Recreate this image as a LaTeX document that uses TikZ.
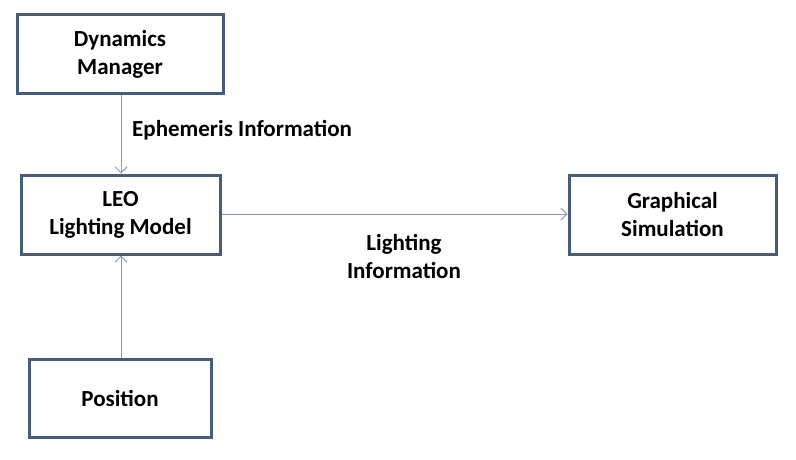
\documentclass[tikz,border=0pt]{standalone}
\usepackage{fontspec}
\setmainfont{Carlito}
\usetikzlibrary{arrows.meta}
\definecolor{boxline}{RGB}{70,92,126}
\definecolor{arrowline}{RGB}{125,155,195}
\tikzset{
  blockbox/.style={draw=boxline, line width=3pt, fill=white, align=center,
    font=\fontsize{23}{28}\selectfont\bfseries, inner sep=0pt},
  flow/.style={draw=arrowline, line width=1pt, -{Straight Barb[length=6pt,width=12pt]}},
  lbl/.style={font=\fontsize{23}{28}\selectfont\bfseries, inner sep=0pt, align=center}
}
\begin{document}
\begin{tikzpicture}[x=1pt,y=-1pt]
\useasboundingbox (0,0) rectangle (796,460);
\node[blockbox, minimum width=206pt, minimum height=79pt] (dm) at (120,54.5) {Dynamics\\Manager};
\node[blockbox, minimum width=199pt, minimum height=79pt] (leo) at (120.5,214.5) {LEO\\Lighting Model};
\node[blockbox, minimum width=182pt, minimum height=78pt] (pos) at (120,398) {Position};
\node[blockbox, minimum width=207pt, minimum height=79pt] (gs) at (672.5,214.5) {Graphical\\Simulation};
\draw[flow] (dm.south -| 121,0) -- (leo.north -| 121,0);
\draw[flow] (pos.north -| 121,0) -- (leo.south -| 121,0);
\draw[flow] (leo.east |- 0,214) -- (gs.west |- 0,214);
\node[lbl, anchor=west] (eph) at (132,130) {Ephemeris Information};
\node[lbl] (li) at (404,256) {Lighting\\Information};
\end{tikzpicture}
\end{document}
